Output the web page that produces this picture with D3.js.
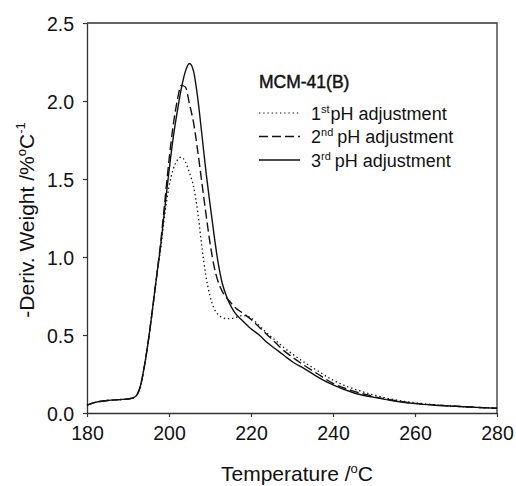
<!DOCTYPE html>
<html>
<head>
<meta charset="utf-8">
<script src="https://cdn.jsdelivr.net/npm/d3@7"></script>
<style>
  html, body { margin: 0; padding: 0; background: #fff; }
  svg { display: block; font-family: "Liberation Sans", Arial, sans-serif; }
</style>
</head>
<body>
<svg id="chart" width="516" height="486"></svg>
<script>
// temperatures (°C) shared by all three runs
const temps = [180, 182, 185, 188, 190, 191, 192, 193, 194, 195, 196, 197,
  198, 199, 200, 201, 202, 203, 204, 205, 206, 207, 208, 209, 210, 211, 212, 213, 214, 215, 216,
  218, 220, 222, 224, 226, 228, 230,
  233, 236, 240, 245, 250, 255, 260, 265, 270, 275, 280];

// the rising foot is the same for every run
const onset = [0.05, 0.068, 0.08, 0.086, 0.09, 0.095, 0.11, 0.17, 0.30, 0.47, 0.67, 0.88];

const firstPH = onset.concat([1.06, 1.28, 1.45, 1.56, 1.62, 1.64, 1.61, 1.54, 1.45, 1.29, 1.07, 0.88, 0.75, 0.67, 0.63, 0.612, 0.605, 0.605, 0.61,
  0.625, 0.61, 0.56, 0.51, 0.465, 0.42, 0.38,
  0.325, 0.275, 0.21, 0.155, 0.115, 0.085, 0.065, 0.052, 0.043, 0.036, 0.03]);

const secondPH = onset.concat([1.10, 1.36, 1.62, 1.84, 2.00, 2.10, 2.09, 1.98, 1.86, 1.68, 1.48, 1.28, 1.09, 0.94, 0.84, 0.78, 0.74, 0.71, 0.68,
  0.64, 0.60, 0.55, 0.50, 0.45, 0.40, 0.36,
  0.305, 0.255, 0.19, 0.14, 0.105, 0.08, 0.062, 0.051, 0.043, 0.036, 0.03]);

const thirdPH = onset.concat([1.08, 1.32, 1.55, 1.76, 1.93, 2.08, 2.19, 2.24, 2.19, 2.02, 1.79, 1.55, 1.34, 1.14, 0.96, 0.83, 0.75, 0.69, 0.645,
  0.59, 0.54, 0.50, 0.45, 0.41, 0.37, 0.33,
  0.285, 0.235, 0.18, 0.13, 0.10, 0.077, 0.06, 0.05, 0.043, 0.036, 0.03]);

const xTicks = [180, 200, 220, 240, 260, 280];
const yTicks = [0, 0.5, 1.0, 1.5, 2.0, 2.5];

const series = [
  { ord: '1', sup: 'st', values: firstPH, dash: '1.4,2.8' },
  { ord: '2', sup: 'nd', values: secondPH, dash: '9,4' },
  { ord: '3', sup: 'rd', values: thirdPH, dash: null }
];

const margin = { top: 23, right: 19, bottom: 73, left: 87 };
const width = 516, height = 486;
const svg = d3.select('#chart');

const x = d3.scaleLinear().domain([180, 280]).range([margin.left, width - margin.right]);
const y = d3.scaleLinear().domain([0, 2.5]).range([height - margin.bottom, margin.top]);

const ink = '#111';

// frame (top + right)
svg.append('path')
  .attr('d', `M${x(180)},${y(2.5)}H${x(280)}V${y(0)}`)
  .attr('fill', 'none').attr('stroke', '#333').attr('stroke-width', 1.3);

const xAxis = svg.append('g')
  .attr('transform', `translate(0,${y(0)})`)
  .call(d3.axisBottom(x).tickValues(xTicks).tickSize(4).tickSizeOuter(0).tickPadding(9));
const yAxis = svg.append('g')
  .attr('transform', `translate(${x(180)},0)`)
  .call(d3.axisLeft(y).tickValues(yTicks).tickFormat(d3.format('.1f')).tickSize(4).tickSizeOuter(0).tickPadding(9));

[xAxis, yAxis].forEach((g) => {
  g.select('.domain').attr('stroke', '#333').attr('stroke-width', 1.3);
  g.selectAll('.tick line').attr('stroke', '#333').attr('stroke-width', 1.2);
  g.selectAll('.tick text').attr('fill', ink).style('font-size', '19.5px').style('font-family', '"Liberation Sans", Arial, sans-serif');
});
yAxis.selectAll('.tick text').attr('dy', '0.36em');

const line = d3.line()
  .x((d) => x(d[0]))
  .y((d) => y(d[1]))
  .curve(d3.curveMonotoneX);

series.forEach((s) => {
  svg.append('path')
    .datum(temps.map((t, i) => [t, s.values[i]]))
    .attr('fill', 'none')
    .attr('stroke', ink)
    .attr('stroke-width', s.dash === '1.4,2.8' ? 1.3 : 1.4)
    .attr('stroke-dasharray', s.dash)
    .attr('d', line);
});

// legend
const legend = svg.append('g').attr('transform', 'translate(259,0)');
legend.append('text')
  .attr('x', 0).attr('y', 88)
  .attr('fill', ink).attr('stroke', ink).attr('stroke-width', 0.45)
  .style('font-size', '17.5px')
  .text('MCM-41(B)');

series.forEach((s, i) => {
  const yy = 113 + i * 23.5;
  legend.append('line')
    .attr('x1', 0).attr('x2', 41).attr('y1', yy).attr('y2', yy)
    .attr('stroke', ink).attr('stroke-width', s.dash === '1.4,2.8' ? 1.1 : 1.4)
    .attr('stroke-dasharray', s.dash);
  const t = legend.append('text')
    .attr('x', 52).attr('y', yy + 6.5)
    .attr('fill', ink).style('font-size', '18px');
  t.append('tspan').text(s.ord);
  t.append('tspan').attr('dy', -7).style('font-size', '11px').text(s.sup);
  t.append('tspan').attr('dy', 7).attr('dx', i === 0 ? 1 : 4).text('pH adjustment');
});

// axis titles
const xTitle = svg.append('text')
  .attr('x', (x(180) + x(280)) / 2 + 5).attr('y', 481)
  .attr('text-anchor', 'middle').attr('fill', ink).style('font-size', '21px');
xTitle.append('tspan').text('Temperature /');
xTitle.append('tspan').attr('dy', -8).style('font-size', '13px').text('o');
xTitle.append('tspan').attr('dy', 8).text('C');

const yTitle = svg.append('text')
  .attr('transform', `translate(34,${(y(0) + y(2.5)) / 2 + 2}) rotate(-90)`)
  .attr('text-anchor', 'middle').attr('fill', ink).style('font-size', '21px');
yTitle.append('tspan').text('-Deriv. Weight /%');
yTitle.append('tspan').attr('dy', -8).style('font-size', '13px').text('o');
yTitle.append('tspan').attr('dy', 8).text('C');
yTitle.append('tspan').attr('dy', -9).style('font-size', '13px').text('-1');
</script>
</body>
</html>
